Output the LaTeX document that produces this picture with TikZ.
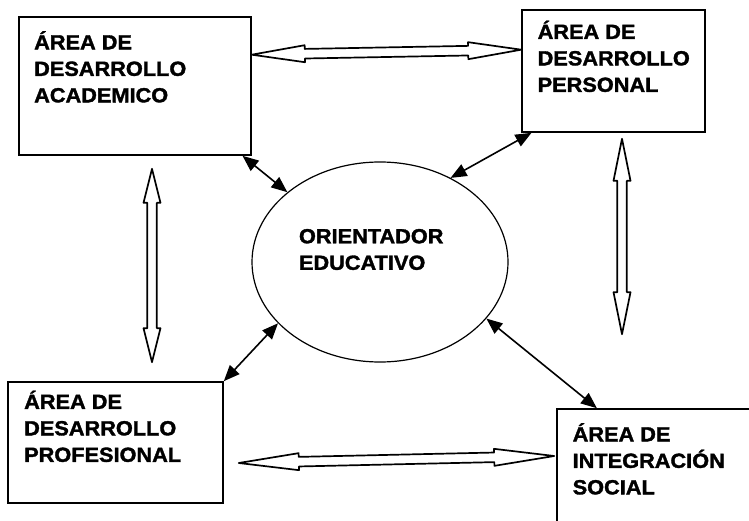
\documentclass[tikz,border=0pt]{standalone}
\usepackage{fontspec}
\setmainfont{Liberation Sans}[FakeStretch=1.06, BoldFeatures={FakeBold=1.6}]
\usetikzlibrary{positioning,calc,arrows.meta,shapes.geometric}
\begin{document}
\begin{tikzpicture}[
        x=1pt,
        y=-1pt,
        areabox/.style={draw=black, line width=1.6pt, inner sep=0pt},
        areatext/.style={align=left, inner sep=0pt, outer sep=0pt,
            font=\fontsize{20.5}{26.5}\selectfont\bfseries},
        link/.style={{Triangle[length=16pt,width=13pt]}-{Triangle[length=16pt,width=13pt]},
            line width=1.6pt},
        hollow/.style={line width=1.7pt, line join=round, to path={
            -- ($(\tikztostart)!#1!(\tikztotarget)!8.5pt!90:(\tikztotarget)$)
            -- ($(\tikztostart)!#1!(\tikztotarget)!4.8pt!90:(\tikztotarget)$)
            -- ($(\tikztotarget)!#1!(\tikztostart)!4.8pt!-90:(\tikztostart)$)
            -- ($(\tikztotarget)!#1!(\tikztostart)!8.5pt!-90:(\tikztostart)$)
            -- (\tikztotarget)
            -- ($(\tikztotarget)!#1!(\tikztostart)!8.5pt!90:(\tikztostart)$)
            -- ($(\tikztotarget)!#1!(\tikztostart)!4.8pt!90:(\tikztostart)$)
            -- ($(\tikztostart)!#1!(\tikztotarget)!4.8pt!-90:(\tikztotarget)$)
            -- ($(\tikztostart)!#1!(\tikztotarget)!8.5pt!-90:(\tikztotarget)$)
            -- cycle}}]
\useasboundingbox (0,0) rectangle (749,521);
% the four areas
\node[areabox, minimum width=232pt, minimum height=138pt] (acad) at (135,86) {};
\node[areabox, minimum width=183pt, minimum height=122pt] (pers) at (613.5,71) {};
\node[areabox, minimum width=215pt, minimum height=121pt] (prof) at (115.5,442.5) {};
\node[areabox, minimum width=203pt, minimum height=126pt] (soc) at (658.5,472) {};
\node[areatext, below right=15pt and 16pt of acad.north west] (acadtext) {ÁREA DE\\DESARROLLO\\ACADEMICO};
\node[areatext, below right=11.5pt and 16.5pt of pers.north west] (perstext) {ÁREA DE\\DESARROLLO\\PERSONAL};
\node[areatext, below right=9.5pt and 17pt of prof.north west] (proftext) {ÁREA DE\\DESARROLLO\\PROFESIONAL};
\node[areatext, below right=15pt and 16.5pt of soc.north west] (soctext) {ÁREA DE\\INTEGRACIÓN\\SOCIAL};
% centre
\node[draw=black, ellipse, line width=1.2pt, minimum width=256pt, minimum height=200pt,
    inner sep=0pt] (orient) at (380,262) {};
\node[areatext, anchor=north west] (orienttext) at ($(orient.center)+(-81,-33)$) {ORIENTADOR\\EDUCATIVO};
\draw[link] (acad.-33) -- (orient.143);
\draw[link] (pers.217) -- (orient.50);
\draw[link] (orient.211) -- (prof.north east);
\draw[link] (orient.332) -- (soc.134);
% between the areas
\coordinate (acadfoot) at ($(acad.south)+(17,13)$);
\coordinate (profhead) at ($(prof.north)+(36.5,-19)$);
\coordinate (persfoot) at ($(pers.south)+(8.5,6)$);
\coordinate (sochead) at ($(soc.north)+(-36.5,-74)$);
\coordinate (profside) at ($(prof.east)+(15,20.5)$);
\coordinate (socside) at ($(soc.west)+(-2,-16)$);
\draw[hollow=53pt] (acad.15) to (pers.167);
\draw[hollow=34pt] (acadfoot) to (profhead);
\draw[hollow=42pt] (persfoot) to (sochead);
\draw[hollow=60pt] (profside) to (socside);
\end{tikzpicture}
\end{document}
